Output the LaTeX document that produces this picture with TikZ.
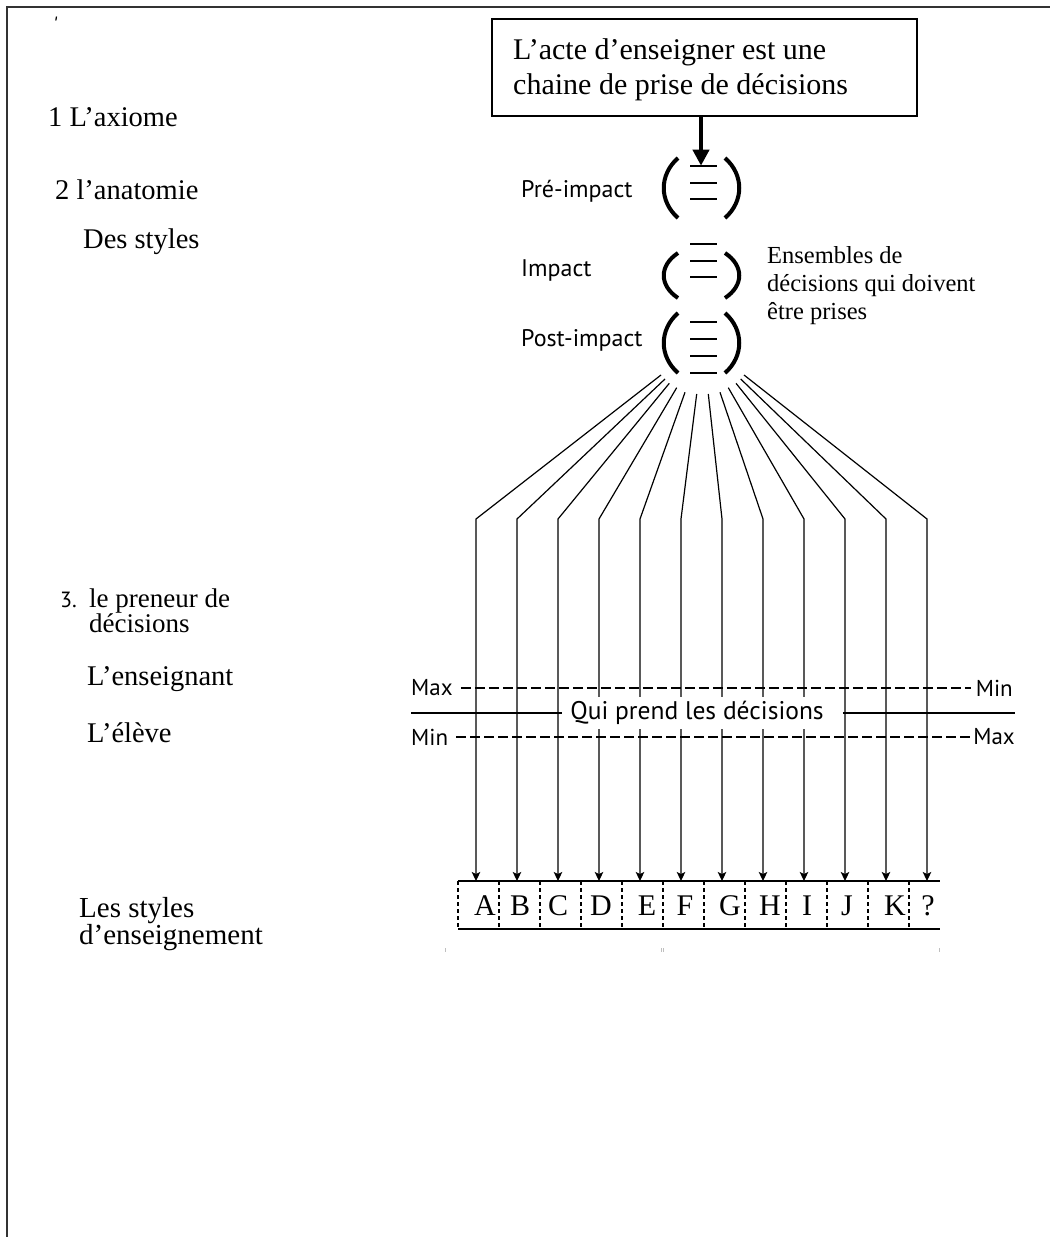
\documentclass[tikz,border=0pt]{standalone}
\usepackage{fontspec}
\setmainfont{Liberation Serif}
\newfontfamily\labelsans{PT Sans}
\usetikzlibrary{arrows.meta}

\begin{document}
\begin{tikzpicture}[x=1pt,y=-1pt,
  serif/.style={inner sep=0pt, anchor=base west, font=\fontsize{28.5}{25}\selectfont},
  serifblock/.style={inner sep=0pt, anchor=north west, align=left},
  sanslabel/.style={inner sep=0pt, anchor=base west, font=\labelsans\fontsize{24}{26}\selectfont},
  scalelabel/.style={inner sep=0pt, font=\labelsans\fontsize{23}{26}\selectfont},
  paren/.style={line width=4pt},
  rung/.style={line width=2pt},
  fanline/.style={line width=1.2pt, -{Stealth[length=9pt,width=8.5pt,inset=2pt]}},
  scaleline/.style={line width=1.2pt, dash pattern=on 10pt off 4pt},
  cellsep/.style={line width=1.5pt, dash pattern=on 4pt off 3pt},
  letter/.style={inner sep=0pt, anchor=base, font=\fontsize{30}{30}\selectfont}
]
% page frame
\useasboundingbox (0,0) rectangle (1050,1237);
\draw[line width=1.5pt, black!80] (7,1237) -- (7,7) -- (1050,7);
\draw[line width=1.2pt] (56.5,16.5) -- (55.8,20.5);

% left column
\node[serif] (axiome) at (48,126) {1 L’axiome};
\node[serif] (anatomie) at (55,199) {2 l’anatomie};
\node[serif] (desstyles) at (83,248) {Des styles};
\node[inner sep=0pt, anchor=base west, font=\labelsans\fontsize{22}{24}\selectfont] (trois) at (60,607) {3.};
\node[serifblock, font={\fontsize{27}{25}\selectfont\lineskiplimit=-50pt}] (preneur) at (89,588.3) {le preneur de\\décisions};
\node[serif] (enseignant) at (87,685) {L’enseignant};
\node[serif] (eleve) at (87,742) {L’élève};
\node[serifblock, font={\fontsize{29}{27}\selectfont\lineskiplimit=-50pt}] (lesstyles) at (79,897.5) {Les styles\\d’enseignement};

% axiom box
\node[draw, line width=2.5pt, minimum width=425pt, minimum height=97pt, inner sep=0pt] (axiom) at (704.5,67.5) {};
\node[serifblock, font={\fontsize{30}{35}\selectfont\lineskiplimit=-50pt}] (axiomtext) at (513,38.5) {L’acte d’enseigner est une\\chaine de prise de décisions};
\coordinate (pretop) at (701,165.7);
\draw[line width=4pt, -{Triangle[length=16pt,width=16pt]}] (axiom.south -| pretop) -- (pretop);

% decision sets
\node[sanslabel] (pre) at (521,197.3) {Pré-impact};
\node[sanslabel] (imp) at (521,276.7) {Impact};
\node[sanslabel] (post) at (521,346.7) {Post-impact};

\foreach \ya/\yb in {158/218, 253/298, 313/373}{
  \draw[paren] (678,\ya) .. controls (659,{\ya+0.28*(\yb-\ya)}) and (659,{\yb-0.28*(\yb-\ya)}) .. (678,\yb);
  \draw[paren] (725,\ya) .. controls (744,{\ya+0.28*(\yb-\ya)}) and (744,{\yb-0.28*(\yb-\ya)}) .. (725,\yb);
}
\foreach \y in {165.7,182.7,199, 244,260.7,276.7, 321.7,339,356,372.7}
  \draw[rung] (690,\y) -- (717,\y);

\node[serifblock, font={\fontsize{24.5}{28}\selectfont}] (ensembles) at (767,246) {Ensembles de\\décisions qui doivent\\être prises};

% fan of decisions towards the styles
\foreach \i/\sx/\sy in {0/661/375, 1/665/379, 2/669.3/383.3, 3/676.7/387.7, 4/685/392.3, 5/696.7/394,
                        6/708.3/394, 7/720/392.3, 8/728.3/387.7, 9/736/383.3, 10/740.7/379, 11/744/375}{
  \coordinate (s\i) at (\sx,\sy);
  \coordinate (k\i) at ({476+41*\i},519);
  \coordinate (t\i) at ({476+41*\i},881);
  \draw[fanline] (s\i) -- (k\i) -- (t\i);
}

% who takes the decisions
\node[scalelabel, anchor=west] (maxT) at (411,688) {Max};
\node[scalelabel, anchor=east] (minT) at (1013,688) {Min};
\node[scalelabel, anchor=west] (minS) at (411,737) {Min};
\node[scalelabel, anchor=east] (maxS) at (1015,737) {Max};
\draw[scaleline] ([xshift=8pt]maxT.east) -- ([xshift=-5pt]minT.west);
\draw[scaleline] ([xshift=8pt]minS.east) -- ([xshift=-2pt]maxS.west);
\node[scalelabel, font=\labelsans\fontsize{25.5}{28}\selectfont, fill=white, inner xsep=0pt, inner ysep=4pt] (qui) at (697,713) {Qui prend les décisions};
\coordinate (lineL) at (411,713);
\coordinate (lineR) at (1015,713);
\draw[line width=2pt] (lineL) -- ([xshift=-8pt]qui.west);
\draw[line width=2pt] ([xshift=19pt]qui.east) -- (lineR);

% styles A ... K
\draw[line width=2pt] (458,881) -- (940,881);
\draw[line width=2pt] (458,929) -- (940,929);
\foreach \k in {0,...,11}
  \draw[cellsep] ({458+41*\k},881) -- ({458+41*\k},929);
\foreach \n/\lx/\t in {A/485/A, B/520/B, C/558/C, D/601/D, E/647/E, F/685/F,
                      G/730/G, H/770/H, I/807/I, J/847/J, K/895/K, Q/928/?}
  \node[letter] (style\n) at (\lx,915) {\t};

% faint specks below the row
\fill[black!25] (444.5,948) rectangle (445.5,952);
\fill[black!25] (661,948) rectangle (662,952);
\fill[black!25] (663,948) rectangle (664,952);
\fill[black!25] (938.5,948) rectangle (939.5,952);
\end{tikzpicture}
\end{document}
